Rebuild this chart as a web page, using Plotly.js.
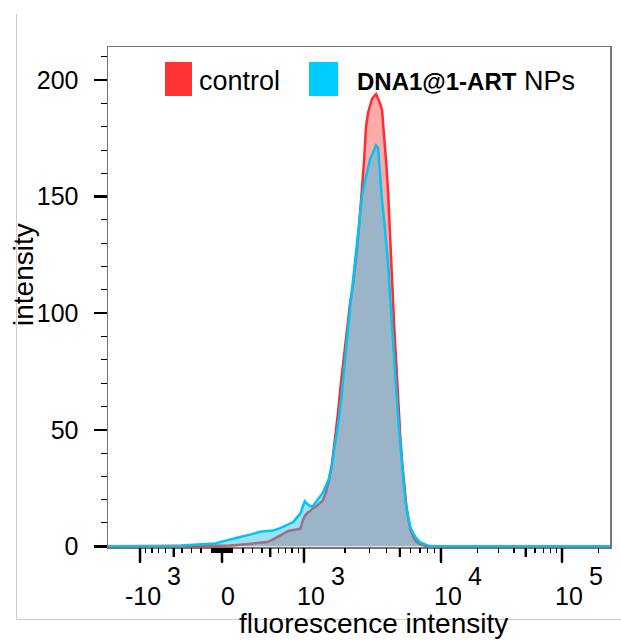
<!DOCTYPE html>
<html>
<head>
<meta charset="utf-8">
<script src="https://cdn.plot.ly/plotly-3.0.1.min.js"></script>
<style>html,body{margin:0;padding:0;background:#fff}#chart{width:621px;height:641px}</style>
</head>
<body>
<div id="chart"></div>
<script>
// ---- data: histogram in display channels (0..1000 across the biexponential axis) ----
const channels = [0,143,153,163,183,203,213,223,243,263,283,303,317,329,343,359,369,377,383,388,392,398,402,408,414,422,428,434,440,446,452,458,464,470,476,482,488,494,500,506,510,514,518,522,526,530,534,538,542,546,550,554,558,562,566,570,574,578,582,586,590,594,598,602,608,614,622,630,637,645,661,781,900,1000];
const controlCounts = [0,0,0,0,0,0,0.1,0.2,0.3,0.7,1.0,1.4,1.8,3.0,4.7,6.6,7.0,7.2,7.5,11,13,14.5,15,16.3,17,18.5,19.7,23,28,35,45,57,70,82,94,104,112,123,137,152,165,180,186,189,192,193,194,192,190,187,177,165,152,136,114,95,78,62,48,36,26,18,12,7.5,4,2,0.8,0.3,0,0,0,0,0,0];
const dnaArtCounts = [0,0,0.5,0.6,0.8,1.0,1.2,1.8,3.0,4.0,5.0,6.2,6.6,6.8,7.8,9.2,10.4,12.5,14,17,19.3,18,17.3,17.2,19,21,23,26,29,35,43,52,62,76,90,102,114,127,140,150,155,159,162,166,168,170,172,171,157,148,140,132,121,107,93,79,66,55,45,34,25,17,12,8.5,5.5,3.5,1.7,0.9,0.4,0.1,0,0,0,0];
const seriesNames = ['control', 'DNA1@1-ART NPs'];

// ---- axis ticks (fluorescence values) ----
const majorTickValues = [-1000, 0, 1000, 10000, 100000];
const tickBase = ['-10', '0', '10', '10', '10'];
const tickExp = ['3', '', '3', '4', '5'];
const midTickValues = [-500, 500, 5000, 50000];
const minorTickValues = [-900,-800,-700,-600,-400,-300,-200,-100,-90,-80,-70,-60,-50,-40,-30,-20,-10,
  10,20,30,40,50,60,70,80,90,100,200,300,400,600,700,800,900,
  2000,3000,4000,6000,7000,8000,9000,20000,30000,40000,60000,70000,80000,90000,200000];
const yMajor = [0, 50, 100, 150, 200];

// biexponential display scale: fluorescence value -> display channel
function biex(v) {
  const zero = 227.1, lin = 163.3, c = 600;
  const a = Math.abs(v);
  if (a <= 1000) return zero + Math.sign(v) * lin * Math.asinh(a / c) / Math.asinh(1000 / c);
  if (v <= 10000) return 390.4 + 272.9 * Math.log10(v / 1000);
  return 663.3 + 241.1 * Math.log10(v / 10000);
}

// ---- layout geometry ----
const W = 621, H = 641, ML = 108, MR = 11, MT = 47, MB = 94;
const PW = W - ML - MR, PH = H - MT - MB;
const px = x => (x - ML) / PW;
const py = y => (H - MB - y) / PH;
const FONT = 'Liberation Sans, Arial, Helvetica, sans-serif';

const traces = [
  {x: channels, y: controlCounts, type: 'scatter', mode: 'lines', name: seriesNames[0],
   fill: 'tozeroy', fillcolor: 'rgba(255,0,0,0.33)', line: {color: '#ff2d2d', width: 2.5}},
  {x: channels, y: dnaArtCounts, type: 'scatter', mode: 'lines', name: seriesNames[1],
   fill: 'tozeroy', fillcolor: 'rgba(42,191,234,0.47)', line: {color: '#00c4f2', width: 2.5}},
  {x: [], y: [], xaxis: 'x2', type: 'scatter', mode: 'lines', showlegend: false, hoverinfo: 'skip'},
  {x: [], y: [], xaxis: 'x3', type: 'scatter', mode: 'lines', showlegend: false, hoverinfo: 'skip'}
];

const annotations = [];
majorTickValues.forEach((v, i) => {
  const xc = biex(v);
  if (tickExp[i]) {
    annotations.push({xref: 'x', yref: 'paper', x: xc, y: py(596), xanchor: 'right', yanchor: 'middle',
      xshift: 23, text: tickBase[i], showarrow: false, font: {family: FONT, size: 25, color: '#000'}});
    annotations.push({xref: 'x', yref: 'paper', x: xc, y: py(576), xanchor: 'left', yanchor: 'middle',
      xshift: 25, text: tickExp[i], showarrow: false, font: {family: FONT, size: 25, color: '#000'}});
  } else {
    annotations.push({xref: 'x', yref: 'paper', x: xc, y: py(596), xanchor: 'center', yanchor: 'middle',
      xshift: 6, text: tickBase[i], showarrow: false, font: {family: FONT, size: 25, color: '#000'}});
  }
});
annotations.push({xref: 'paper', yref: 'paper', x: px(373), y: py(623), xanchor: 'center', yanchor: 'middle',
  text: 'fluorescence intensity', showarrow: false, borderpad: 0, font: {family: FONT, size: 28, color: '#000'}});
annotations.push({xref: 'paper', yref: 'paper', x: px(23), y: py(275), xanchor: 'center', yanchor: 'middle',
  textangle: -90, text: 'intensity', showarrow: false, font: {family: FONT, size: 28, color: '#000'}});
annotations.push({xref: 'paper', yref: 'paper', x: px(197), y: py(81), xanchor: 'left', yanchor: 'middle',
  text: seriesNames[0], showarrow: false, font: {family: FONT, size: 27, color: '#000'}});
annotations.push({xref: 'paper', yref: 'paper', x: px(355), y: py(81), xanchor: 'left', yanchor: 'middle',
  text: "<span style='font-size:24px'><b>DNA1@1-ART</b></span> NPs", showarrow: false,
  font: {family: FONT, size: 27, color: '#000'}});

const shapes = [
  {type: 'rect', xref: 'paper', yref: 'paper', x0: px(165), x1: px(192), y0: py(96), y1: py(62),
   fillcolor: '#ff3333', line: {width: 0}},
  {type: 'rect', xref: 'paper', yref: 'paper', x0: px(309), x1: px(338), y0: py(96), y1: py(62),
   fillcolor: '#00ccff', line: {width: 0}},
  {type: 'line', xref: 'paper', yref: 'paper', x0: px(16.5), x1: px(16.5), y0: py(14), y1: py(619.5),
   line: {color: '#cccccc', width: 1}},
  {type: 'line', xref: 'paper', yref: 'paper', x0: px(16), x1: px(640), y0: py(619.5), y1: py(619.5),
   line: {color: '#cccccc', width: 1}}
];
// tick marks of the biexponential axis, placed through the x scale
const tickMark = (v, len, width) => ({type: 'line', xref: 'x', yref: 'paper', layer: 'above',
  x0: biex(v), x1: biex(v), y0: py(548), y1: py(548 + len), line: {color: '#000', width: width}});
majorTickValues.forEach(v => shapes.push(tickMark(v, 14, 2.5)));
midTickValues.forEach(v => shapes.push(tickMark(v, 9, 2)));

const tickAxis = (vals, len, width) => ({
  overlaying: 'x', anchor: 'y', side: 'bottom', range: [0, 1000],
  showgrid: false, zeroline: false, showline: false, showticklabels: false,
  ticks: 'outside', tickmode: 'array', tickvals: vals.map(biex),
  ticklen: len, tickwidth: width, tickcolor: '#000'
});

const layout = {
  width: W, height: H,
  margin: {l: ML, r: MR, t: MT, b: MB, pad: 0},
  showlegend: false,
  font: {family: FONT, color: '#000'},
  xaxis: {
    range: [0, 1000], showgrid: false, zeroline: false,
    showline: true, linecolor: '#777', linewidth: 1.5, mirror: true,
    ticks: 'outside', tickmode: 'array', tickvals: majorTickValues.map(biex),
    ticklen: 14, tickwidth: 2.5, tickcolor: '#000', showticklabels: false
  },
  xaxis2: tickAxis(midTickValues, 9, 2),
  xaxis3: tickAxis(minorTickValues, 5, 1.5),
  yaxis: {
    range: [-0.3, 214.2], showgrid: false, zeroline: false,
    showline: true, linecolor: '#777', linewidth: 1.5, mirror: true,
    ticks: 'outside', tickmode: 'array', tickvals: yMajor, ticklen: 13, tickwidth: 2.5, tickcolor: '#000',
    tickfont: {family: FONT, size: 25, color: '#000'}, ticklabelstandoff: 10,
    minor: {tickmode: 'linear', tick0: 0, dtick: 10, ticks: 'outside', ticklen: 6, tickwidth: 1, tickcolor: '#000', showgrid: false}
  },
  annotations: annotations,
  shapes: shapes
};

Plotly.newPlot('chart', traces, layout, {staticPlot: true, displayModeBar: false});
</script>
</body>
</html>
